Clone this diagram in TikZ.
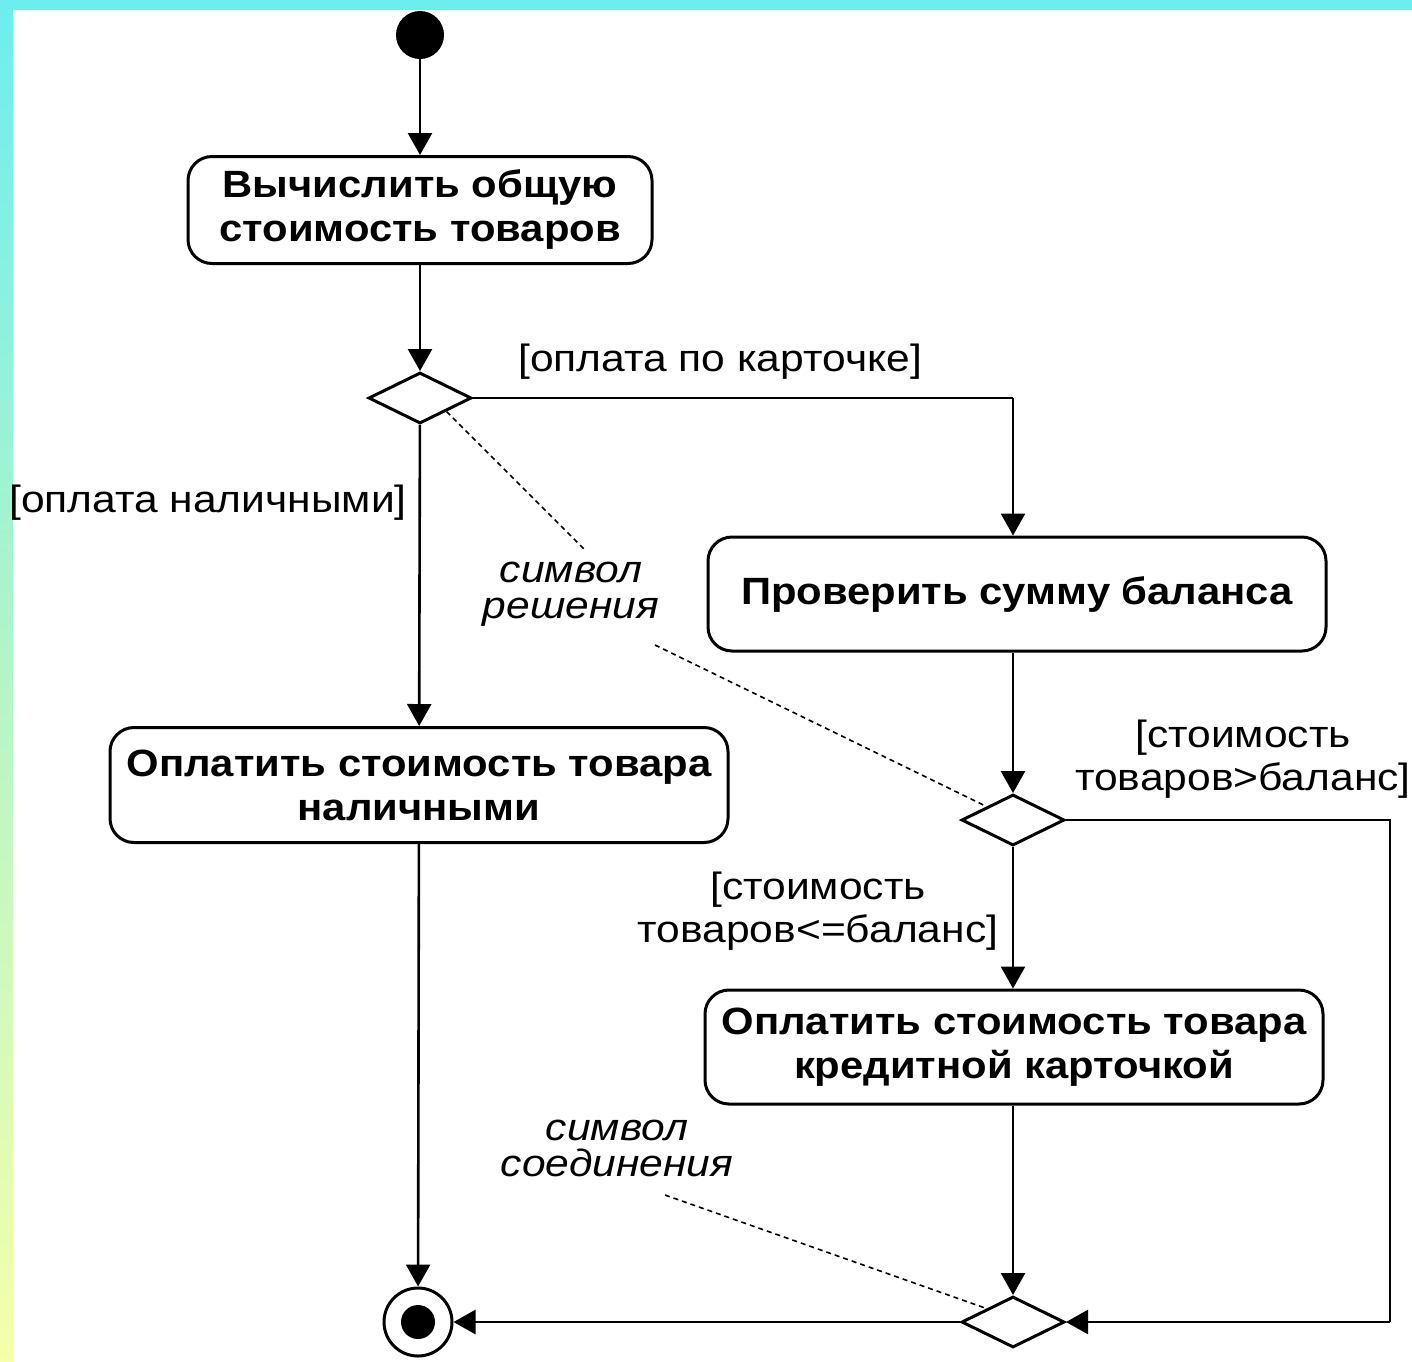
\documentclass[tikz,border=0pt]{standalone}
\usepackage{fontspec}
\setmainfont{Liberation Sans}
\newfontfamily\actfont[FakeStretch=1.1]{Liberation Sans}
\newfontfamily\guardfont[FakeStretch=1.12]{Liberation Sans}
\newfontfamily\notefont[FakeStretch=1.12]{Liberation Sans}
\usetikzlibrary{shapes.geometric,arrows.meta,calc}
\definecolor{bcyan}{RGB}{108,238,238}
\definecolor{byellow}{RGB}{246,255,170}
\definecolor{bmid}{RGB}{180,245,200}
\tikzset{
  act/.style={draw, line width=1.5pt, rounded corners=12pt, align=center, inner sep=0pt,
    font=\actfont\bfseries\fontsize{19}{22}\selectfont},
  dec/.style={draw, diamond, line width=1.5pt, inner sep=0pt, minimum width=51.5pt, minimum height=25.5pt},
  flow/.style={line width=1.3pt, -{Triangle[length=11pt,width=12pt]}},
  plain/.style={line width=1.3pt},
  guard/.style={align=center, inner sep=0pt, font=\guardfont\fontsize{19}{21.5}\selectfont},
  note/.style={align=center, inner sep=0pt, font=\notefont\itshape\fontsize{19}{18}\selectfont},
  notel/.style={line width=0.8pt, dash pattern=on 2.5pt off 2pt}
}
\begin{document}
\begin{tikzpicture}[x=0.5pt,y=-0.5pt]
\useasboundingbox (0,0) rectangle (1412,1361);
\fill[white] (0,0) rectangle (1412,1361);
\shade[top color=bcyan, bottom color=byellow, middle color=bmid] (0,0) rectangle (13,1361);
\fill[bcyan] (0,0) rectangle (1412,10);

\node[circle, fill=black, minimum size=24pt, inner sep=0pt] (start) at (420,35) {};
\node[act, minimum width=232pt, minimum height=53.5pt] (b1) at (420,210) {Вычислить общую\\стоимость товаров};
\node[dec] (d1) at (420,398) {};
\node[act, minimum width=309pt, minimum height=57pt] (b2) at (1017,594) {Проверить сумму баланса};
\node[act, minimum width=309pt, minimum height=57.5pt] (b3) at (419,785) {Оплатить стоимость товара\\наличными};
\node[dec] (d2) at (1013,820) {};
\node[act, minimum width=309pt, minimum height=57pt] (b4) at (1014,1047) {Оплатить стоимость товара\\кредитной карточкой};
\node[dec] (d3) at (1013,1322) {};
\node[circle, draw, line width=1.5pt, minimum size=34pt, inner sep=0pt] (end) at (418,1322) {};
\node[circle, fill=black, minimum size=17pt, inner sep=0pt] (endin) at (418,1322) {};

\node[guard] (l1) at (720,362) {[оплата по карточке]};
\node[guard] (l2) at (208,503) {[оплата наличными]};
\node[guard] (l3) at (1243,759) {[стоимость\\товаров>баланс]};
\node[guard] (l4) at (818,911) {[стоимость\\товаров<=баланс]};
\node[note] (n1) at (571,594) {символ\\решения};
\node[note] (n2) at (617,1148) {символ\\соединения};

\coordinate (c1) at (1013,398);
\coordinate (c2) at (1390,820);
\coordinate (c3) at (1390,1322);

\draw[flow] (start) -- (b1);
\draw[flow] (b1) -- (d1);
\draw[plain] (d1.east) -- (c1);
\draw[flow] (c1) -- (c1 |- b2.north);
\draw[flow] (d1) -- (b3);
\draw[flow] (b3) -- (end);
\draw[flow] (b2.south -| d2) -- (d2);
\draw[plain] (d2.east) -- (c2) -- (c3);
\draw[flow] (c3) -- (d3.east);
\draw[flow] (d2) -- (d2 |- b4.north);
\draw[flow] (b4.south -| d3) -- (d3);
\draw[flow] (d3) -- (end);

\coordinate (n1a) at (585,550);
\coordinate (n1b) at (655,645);
\coordinate (n2a) at (665,1195);
\draw[notel] (d1.south east) -- (n1a);
\draw[notel] (n1b) -- (d2.north west);
\draw[notel] (n2a) -- (d3.north west);
\end{tikzpicture}
\end{document}
